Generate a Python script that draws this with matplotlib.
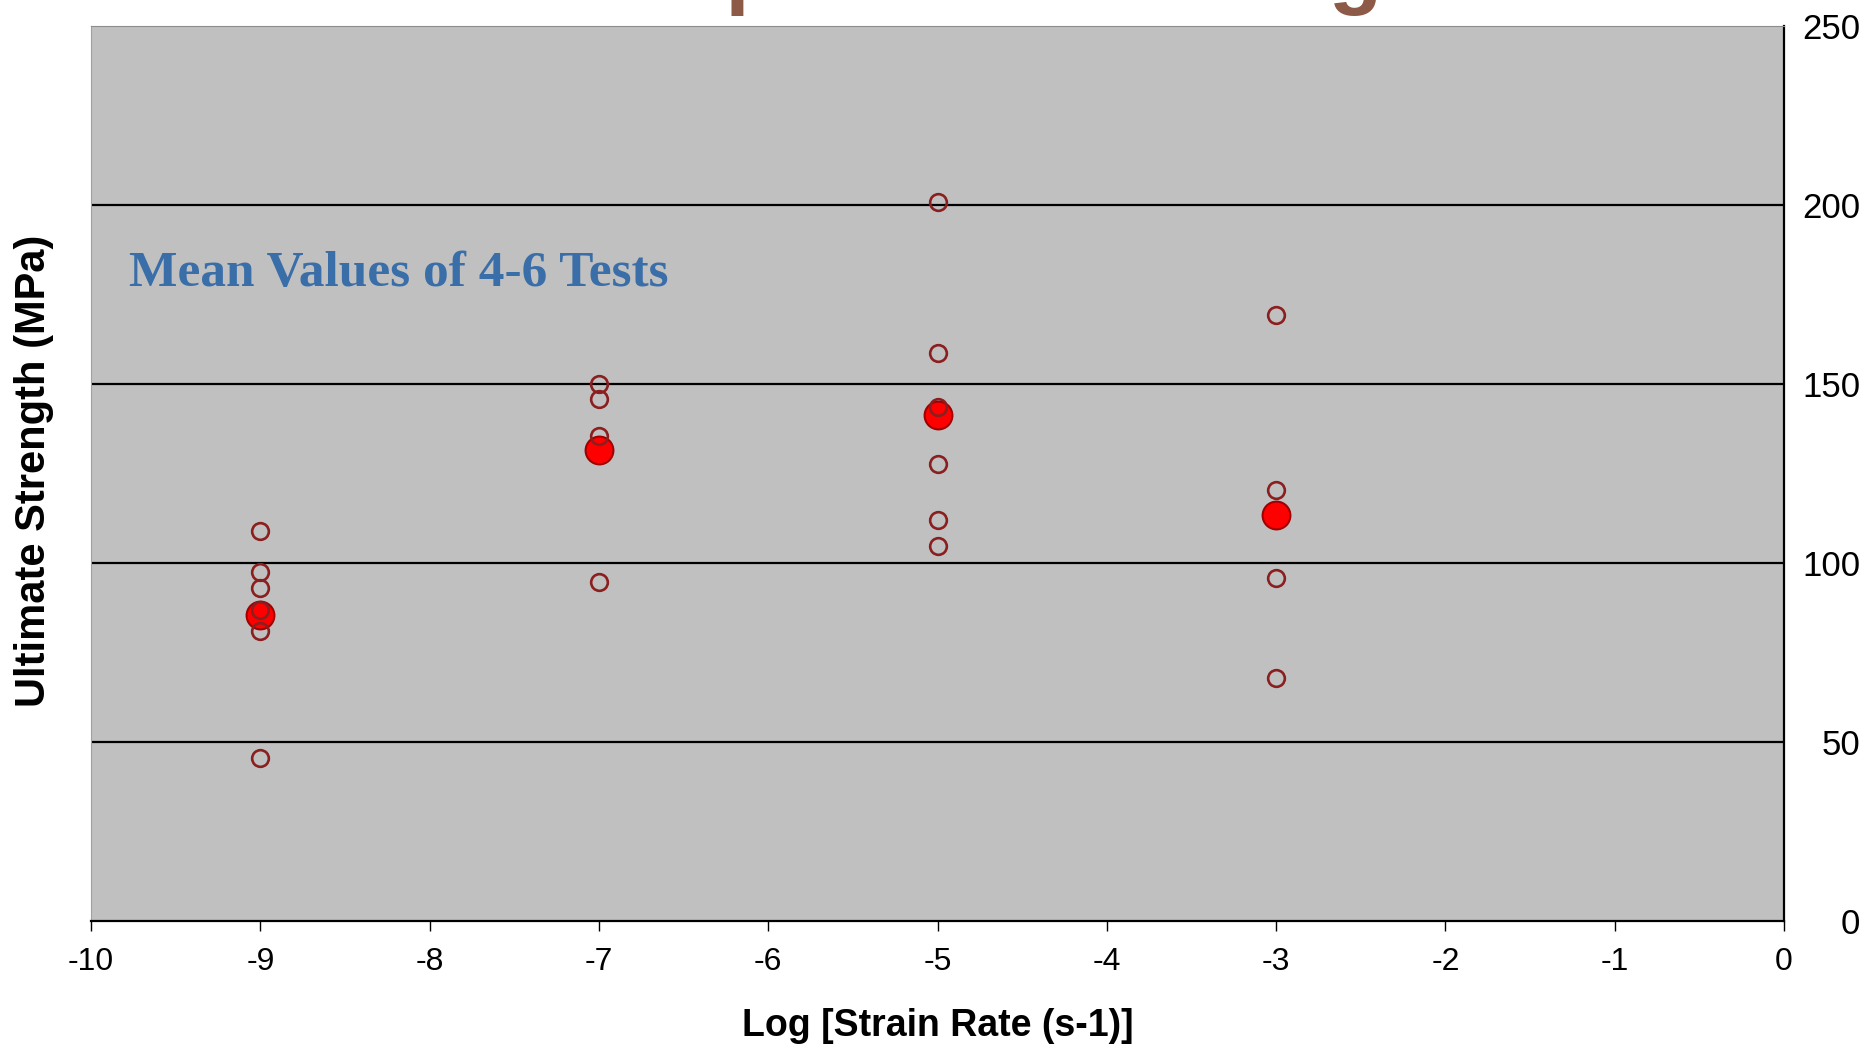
import matplotlib
matplotlib.use("Agg")
import matplotlib.pyplot as plt

# individual tests, grouped by log strain rate
rates = [-9, -7, -5, -3]
tests = [
    [109, 97.5, 93, 87, 81, 45.5],
    [150, 145.7, 135.5, 94.6],
    [201, 158.6, 143.7, 127.6, 112, 104.7],
    [169.3, 120.4, 95.7, 68],
]
# mean strength per rate
means = [85.5, 131.5, 141.3, 113.4]

xticks = list(range(-10, 1))
yticks = [0, 50, 100, 150, 200, 250]

fig = plt.figure(figsize=(18.7, 10.54), dpi=100)
ax = fig.add_axes([0.0487, 0.1262, 0.9053, 0.849])
ax.set_facecolor("#c0c0c0")

for y in yticks[1:-1]:
    ax.axhline(y, color="black", lw=1.6, zorder=1)

ax.plot(rates, means, "o", ms=20, mfc="#ff0000", mec="#a00000", mew=1.5,
        ls="none", zorder=3)
for x, vals in zip(rates, tests):
    ax.plot([x] * len(vals), vals, "o", ms=12, mfc="none", mec="#8b1e1e",
            mew=1.9, ls="none", zorder=4)

ax.set_xlim(-10, 0)
ax.set_ylim(0, 250)
ax.set_xticks(xticks)
ax.set_xticklabels([str(t) for t in xticks])
ax.yaxis.tick_right()
ax.set_yticks(yticks)
ax.tick_params(axis="x", direction="out", length=7, width=1, pad=12,
               labelsize=23)
ax.tick_params(axis="y", length=0, pad=55, labelsize=25)
for lab in ax.get_yticklabels():
    lab.set_horizontalalignment("right")
for lab in ax.get_xticklabels() + ax.get_yticklabels():
    lab.set_family(["Liberation Sans", "DejaVu Sans"])

ax.spines["top"].set_color("#8c8c8c")
ax.spines["left"].set_color("#a0a0a0")
ax.spines["bottom"].set_linewidth(1.6)
ax.spines["right"].set_linewidth(1.6)

ax.set_xlabel("Log [Strain Rate (s-1)]", fontsize=27, fontweight="bold",
              family=["Liberation Sans", "DejaVu Sans"], labelpad=22)
fig.text(0.018, 0.553, "Ultimate Strength (MPa)", rotation=90, fontsize=30,
         fontweight="bold", family=["Liberation Sans", "DejaVu Sans"],
         ha="center", va="center")

ax.text(0.0224, 0.71, "Mean Values of 4-6 Tests", transform=ax.transAxes,
        fontsize=37, fontweight="bold", color="#3a6ea8",
        family=["Liberation Serif", "DejaVu Serif"], va="baseline", ha="left")

# slide title sits above the figure, only descenders show
fig.text(531 / 1870, 1 + 2 / 1054, "Compressive Strength", fontsize=63,
         fontweight="bold", color="#8c5a46",
         family=["Liberation Sans", "DejaVu Sans"], va="baseline", ha="left")

fig.savefig("out.png", dpi=100, facecolor="white")
